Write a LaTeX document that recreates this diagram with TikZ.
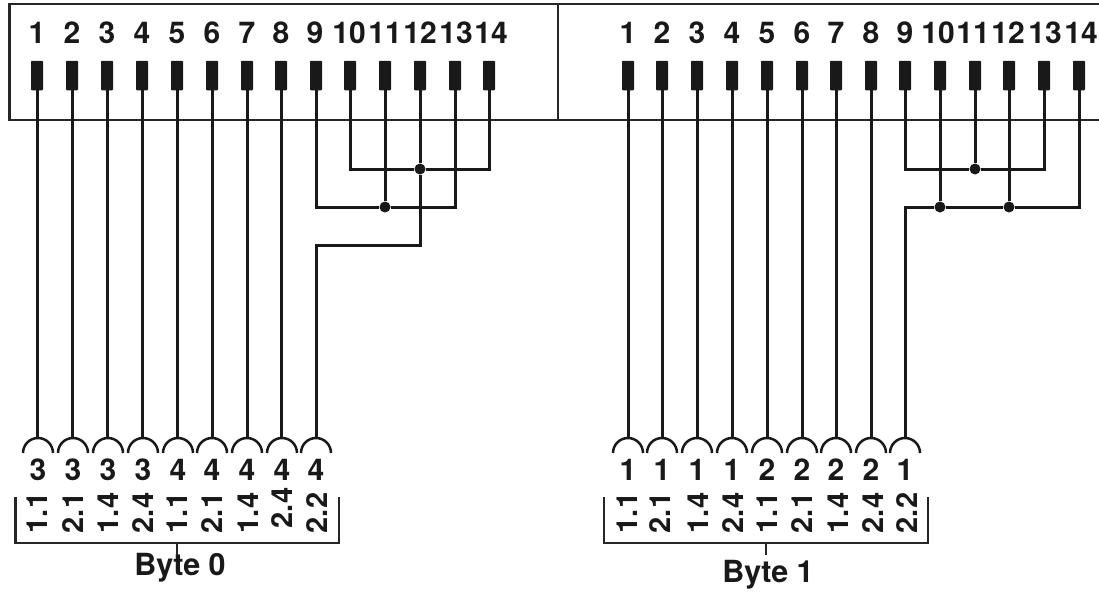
\documentclass[tikz,border=0pt]{standalone}
\usepackage{fontspec}
\setmainfont{TeX Gyre Heros}
\usepackage{tikz}
\usetikzlibrary{positioning}
\tikzset{
    pin/.style={fill=black!90, rounded corners=0.8pt, minimum width=12pt, minimum height=29.5pt, inner sep=0pt},
    wire/.style={line width=3pt, black!90},
    hood/.style={line width=2.5pt, black!90},
    frame/.style={line width=2.4pt, black!85},
    junction/.style={circle, fill=black!90, minimum size=11pt, inner sep=0pt},
    lbl/.style={font=\fontsize{30}{30}\selectfont\bfseries, text=black!90, inner sep=0pt},
    sublbl/.style={lbl, rotate=90, font=\fontsize{29}{29}\selectfont\bfseries},
    bytelbl/.style={lbl, font=\fontsize{30.5}{30.5}\selectfont\bfseries},
}
\begin{document}
\begin{tikzpicture}[x=1pt, y=-1pt]
    \useasboundingbox (0, 0) rectangle (1099, 595);

    % the two connector panels
    \draw[frame] (1099, 4) -- (9.5, 4) -- (9.5, 120) -- (1099, 120);
    \draw[frame] (558, 4) -- (558, 120);

    % pins and their numbers
    \foreach \n/\x/\t in {1/37/37, 2/72/72, 3/107/107, 4/142/142, 5/177/177, 6/212/212, 7/247/247,
                          8/281/281, 9/316/315, 10/350/349, 11/385/385, 12/420/420, 13/455/456, 14/489/491} {
        \node[pin] (a\n) at (\x, 75.5) {};
        \node[lbl] (an\n) at (\t, 33) {\n};
    }
    \foreach \n/\x/\t in {1/628/628, 2/662/662, 3/697/697, 4/732/732, 5/767/767, 6/802/802, 7/836/836,
                          8/871/871, 9/905/905, 10/940/938, 11/975/973, 12/1009/1008, 13/1044/1045, 14/1079/1081} {
        \node[pin] (b\n) at (\x, 75.5) {};
        \node[lbl] (bn\n) at (\t, 33) {\n};
    }

    % sockets
    \foreach \n/\x/\d/\s/\t/\y in {1/38/3/1.1/37/513, 2/73/3/2.1/73/513, 3/108/3/1.4/108/513, 4/143/3/2.4/143/513,
                                   5/178/4/1.1/177/513, 6/212/4/2.1/212/513, 7/247/4/1.4/248/513, 8/282/4/2.4/282/508,
                                   9/316/4/2.2/317/513} {
        \coordinate (c\n) at (\x, 438);
        \draw[hood] (\x-15, 453) arc (180:360:15);
        \node[lbl] (cd\n) at (\x, 470) {\d};
        \node[sublbl] (cs\n) at (\t, \y) {\s};
    }
    \foreach \n/\x/\d/\s/\t in {1/628/1/1.1/627, 2/662/1/2.1/660, 3/697/1/1.4/698, 4/732/1/2.4/733,
                                5/767/2/1.1/767, 6/802/2/2.1/802, 7/836/2/1.4/838, 8/871/2/2.4/873,
                                9/905/1/2.2/907} {
        \coordinate (d\n) at (\x, 438);
        \draw[hood] (\x-15, 453) arc (180:360:15);
        \node[lbl] (dd\n) at (\x, 470) {\d};
        \node[sublbl] (ds\n) at (\t, 513) {\s};
    }

    % straight wires
    \foreach \n in {1, ..., 8} {
        \draw[wire] (a\n.south) -- (a\n.south |- c\n);
        \draw[wire] (b\n.south) -- (b\n.south |- d\n);
    }

    % byte 0 wiring
    \node[junction] (ja) at (420, 169) {};
    \node[junction] (jb) at (385, 207) {};
    \coordinate (ka) at (316, 245);
    \draw[wire] (a10.south) |- (ja) -| (a14.south);
    \draw[wire] (a9.south) |- (jb) -| (a13.south);
    \draw[wire] (a11.south) -- (jb);
    \draw[wire] (a12.south) -- (ja);
    \draw[wire] (ja) |- (ka) -- (c9);

    % byte 1 wiring
    \node[junction] (jc) at (975, 169) {};
    \node[junction] (jd) at (940, 207) {};
    \node[junction] (je) at (1009, 207) {};
    \draw[wire] (b9.south) |- (jc) -| (b13.south);
    \draw[wire] (b11.south) -- (jc);
    \draw[wire] (b10.south) -- (jd);
    \draw[wire] (b12.south) -- (je);
    \draw[wire] (b14.south) |- (je) -- (jd) -| (d9);

    % brackets
    \coordinate (ca) at (177, 543);
    \coordinate (cb) at (766, 543);
    \draw[frame] (15.5, 497) |- (339, 543) -- (339, 497);
    \draw[frame] (604, 497) |- (928, 543) -- (928, 497);
    \node[bytelbl] (byte0) at (180, 568) {Byte 0};
    \node[bytelbl] (byte1) at (768, 575) {Byte 1};
    \draw[frame] (ca) -- (177, 555);
    \draw[frame] (cb) -- (766, 555);
\end{tikzpicture}
\end{document}
